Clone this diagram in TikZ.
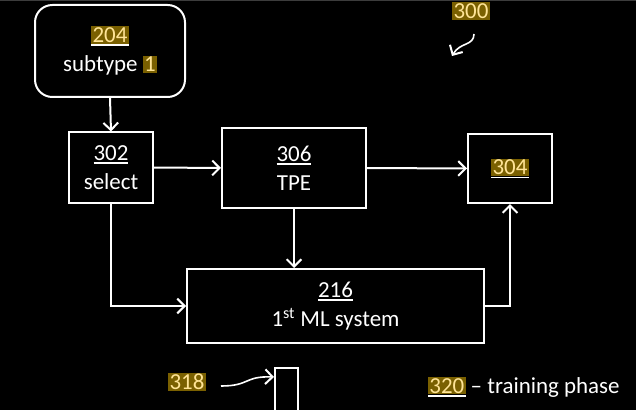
\documentclass[tikz,border=0pt]{standalone}
\usepackage{fontspec}
\setmainfont{Carlito}
\usetikzlibrary{arrows.meta}
\definecolor{hlbg}{RGB}{122,96,0}
\definecolor{hlfg}{RGB}{255,228,150}
\definecolor{topgray}{RGB}{60,60,60}
\newcommand\hlt[1]{{\setlength\fboxsep{0.9pt}\colorbox{hlbg}{\textcolor{hlfg}{#1}}}}
\newcommand\ulx[1]{\leavevmode\setbox0\hbox{#1}\rlap{\raisebox{-2.6pt}{\rule{\wd0}{1.2pt}}}\box0\relax}
\tikzset{
  box/.style={draw=white, line width=1.5pt, text=white, align=center, inner sep=0pt,
    font=\fontsize{17.2}{22}\selectfont},
  conn/.style={draw=white, line width=1.5pt, -{Straight Barb[length=5.5pt,width=11pt,line width=1.5pt]}},
  lbl/.style={text=white, inner sep=0pt, font=\fontsize{17.2}{22}\selectfont}
}
\begin{document}
\begin{tikzpicture}[x=0.75pt,y=-0.75pt]
\fill[black] (0,0) rectangle (636,410);
\useasboundingbox (0,0) rectangle (636,410);
\fill[topgray] (0,0) rectangle (636,1.5);

\node[box, rounded corners=13pt, minimum width=112.5pt, minimum height=69pt] (n204) at (110,51)
  {\ulx{\hlt{204}}\\subtype \hlt{1}};
\node[box, minimum width=63pt, minimum height=52.5pt] (n302) at (111,167.5)
  {\ulx{302}\\select};
\node[box, minimum width=108pt, minimum height=60pt] (n306) at (294,168)
  {\ulx{306}\\TPE};
\node[box, minimum width=63pt, minimum height=52pt] (n304) at (510,168.5)
  {\ulx{\hlt{304}}};
\node[box, minimum width=222.75pt, minimum height=55.5pt] (n216) at (335.5,306)
  {\ulx{216}\\1\textsuperscript{st} ML system};

\draw[conn] (n204.south) -- (n302.north);
\draw[conn] (n302.east) -- (n306.west);
\draw[conn] (n306.east) -- (n304.west);
\draw[conn] (n306.south) -- (n306.south |- n216.north);
\draw[conn] (n302.south) |- (n216.west);
\draw[conn] (n216.east) -| (n304.south);

\node[lbl] (l300) at (471,11) {\hlt{300}};
\coordinate (a300s) at (474,34);
\coordinate (a300e) at (452,56);
\draw[conn, line width=1.2pt] (a300s) .. controls (474,46) and (460,42) .. (a300e);

\node[lbl] (l318) at (187,382) {\hlt{318}};
\draw[draw=white, line width=1.5pt] (275,368) rectangle (298,420);
\coordinate (r318) at (274,377);
\draw[conn, line width=1.2pt] (221,386) .. controls (250,386) and (244,376) .. (r318);

\node[lbl, anchor=west] (l320) at (428,387) {\ulx{\hlt{320}} -- training phase};
\end{tikzpicture}
\end{document}
